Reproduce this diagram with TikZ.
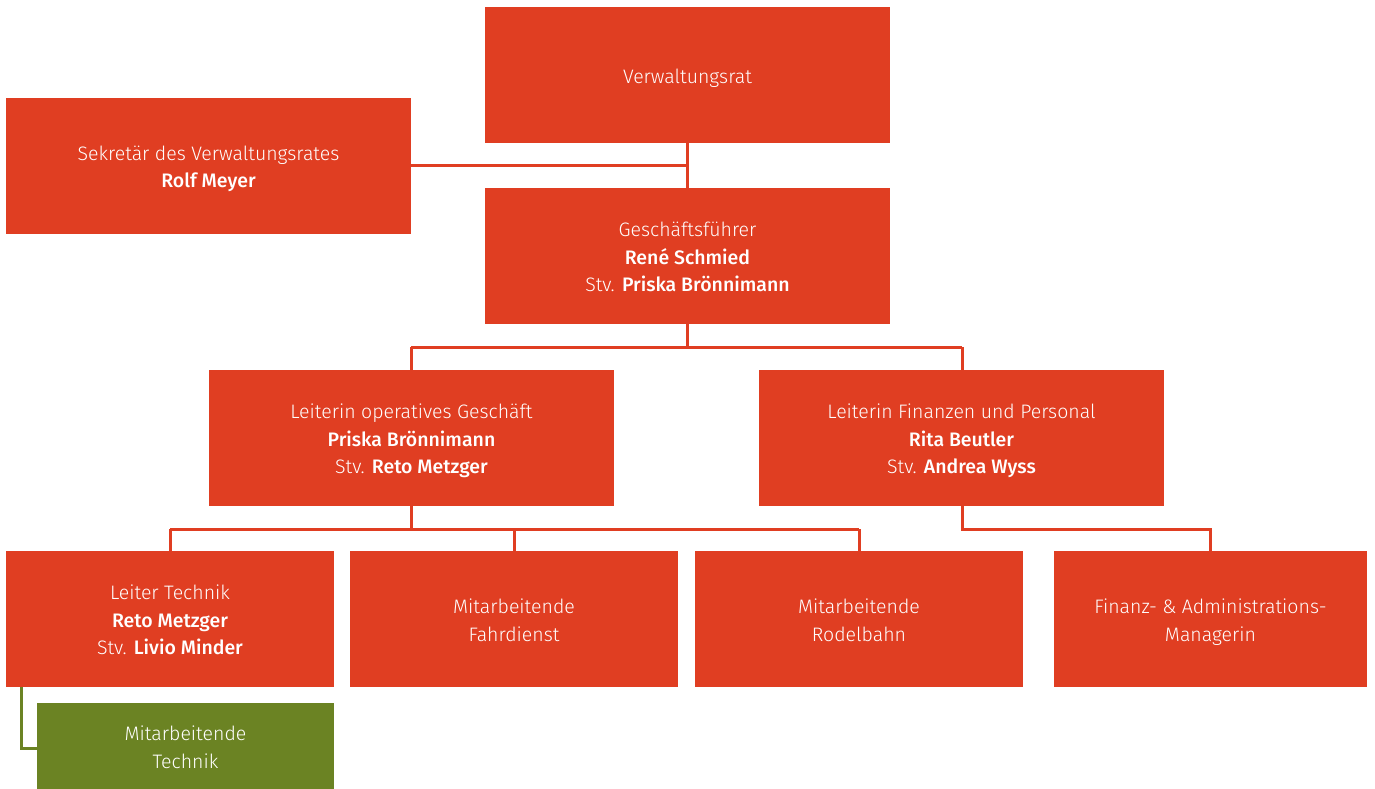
\documentclass[tikz,border=0pt]{standalone}
\usepackage{fontspec}
\setmainfont{Fira Sans}[UprightFont=* Light, BoldFont=* Medium]
\definecolor{orgred}{RGB}{224,62,34}
\definecolor{orggreen}{RGB}{107,131,35}
\begin{document}
\begin{tikzpicture}[x=1pt,y=-1pt,
  txt/.style={text=white,align=center,font=\fontsize{19.5}{27.5}\selectfont,inner sep=0pt,text depth=0pt},
  box/.style={fill=orgred,draw=none,txt},
  gbox/.style={fill=orggreen,draw=none,txt},
  conn/.style={draw=orgred,line width=3pt},
  gconn/.style={draw=orggreen,line width=3pt}]
\useasboundingbox (0,0) rectangle (1375,789);
% connectors first
\coordinate (vrb) at (687,143);
\coordinate (gft) at (687,188);
\coordinate (sek) at (411,165);
\coordinate (sekj) at (687,165);
\coordinate (gfb) at (687,324);
\coordinate (j1) at (687,347);
\coordinate (j1l) at (411,347);
\coordinate (j1r) at (962,347);
\coordinate (opt) at (411,370);
\coordinate (fit) at (962,370);
\coordinate (opb) at (411,506);
\coordinate (op2) at (411,529);
\coordinate (h1l) at (170,529);
\coordinate (h1r) at (859,529);
\coordinate (h1m) at (514,529);
\coordinate (fib) at (962,506);
\coordinate (fi2) at (962,529);
\coordinate (fi3) at (1210,529);
\draw[conn] (vrb) -- (gft);
\draw[conn] (sek) -- (sekj);
\draw[conn] (gfb) -- (j1) (j1l) -- (j1r);
\draw[conn] (j1l) -- (opt) (j1r) -- (fit);
\draw[conn] (opb) -- (op2) (h1l) -- (h1r);
\draw[conn] (h1l) -- ++(0,22) (h1m) -- ++(0,22) (h1r) -- ++(0,22);
\draw[conn] (fib) -- (fi2) -- (fi3) -- ++(0,22);
\coordinate (gs) at (21,687);
\coordinate (ge) at (37,748);
\draw[gconn] (gs) |- (ge);
% boxes
\node[box,minimum width=405,minimum height=136] (vr) at (687.5,75) {};
\node[box,minimum width=405,minimum height=136] (sr) at (208.5,166) {};
\node[box,minimum width=405,minimum height=136] (gf) at (687.5,256) {};
\node[box,minimum width=405,minimum height=136] (op) at (411.5,438) {};
\node[box,minimum width=405,minimum height=136] (fi) at (961.5,438) {};
\node[box,minimum width=328,minimum height=136] (lt) at (170,619) {};
\node[box,minimum width=328,minimum height=136] (fd) at (514,619) {};
\node[box,minimum width=328,minimum height=136] (rb) at (859,619) {};
\node[box,minimum width=313,minimum height=136] (fa) at (1210.5,619) {};
\node[gbox,minimum width=297,minimum height=86] (mt) at (185.5,746) {};
% texts
\node[txt] (vrt) at ([yshift=-1]vr.center) {Verwaltungsrat};
\node[txt] (srt) at ([yshift=-1]sr.center) {Sekretär des Verwaltungsrates\\\textbf{Rolf Meyer}};
\node[txt] (gft2) at ([yshift=-1]gf.center) {Geschäftsführer\\\textbf{René Schmied}\\Stv. \textbf{Priska Brönnimann}};
\node[txt] (opt2) at ([yshift=-1]op.center) {Leiterin operatives Geschäft\\\textbf{Priska Brönnimann}\\Stv. \textbf{Reto Metzger}};
\node[txt] (fit2) at ([yshift=-1]fi.center) {Leiterin Finanzen und Personal\\\textbf{Rita Beutler}\\Stv. \textbf{Andrea Wyss}};
\node[txt] (ltt) at ([yshift=-1]lt.center) {Leiter Technik\\\textbf{Reto Metzger}\\Stv. \textbf{Livio Minder}};
\node[txt] (fdt) at ([yshift=-1]fd.center) {Mitarbeitende\\Fahrdienst};
\node[txt] (rbt) at ([yshift=-1]rb.center) {Mitarbeitende\\Rodelbahn};
\node[txt] (fat) at ([yshift=-1]fa.center) {Finanz- \& Administrations-\\Managerin};
\node[txt] (mtt) at ([yshift=-1]mt.center) {Mitarbeitende\\Technik};
\end{tikzpicture}
\end{document}
